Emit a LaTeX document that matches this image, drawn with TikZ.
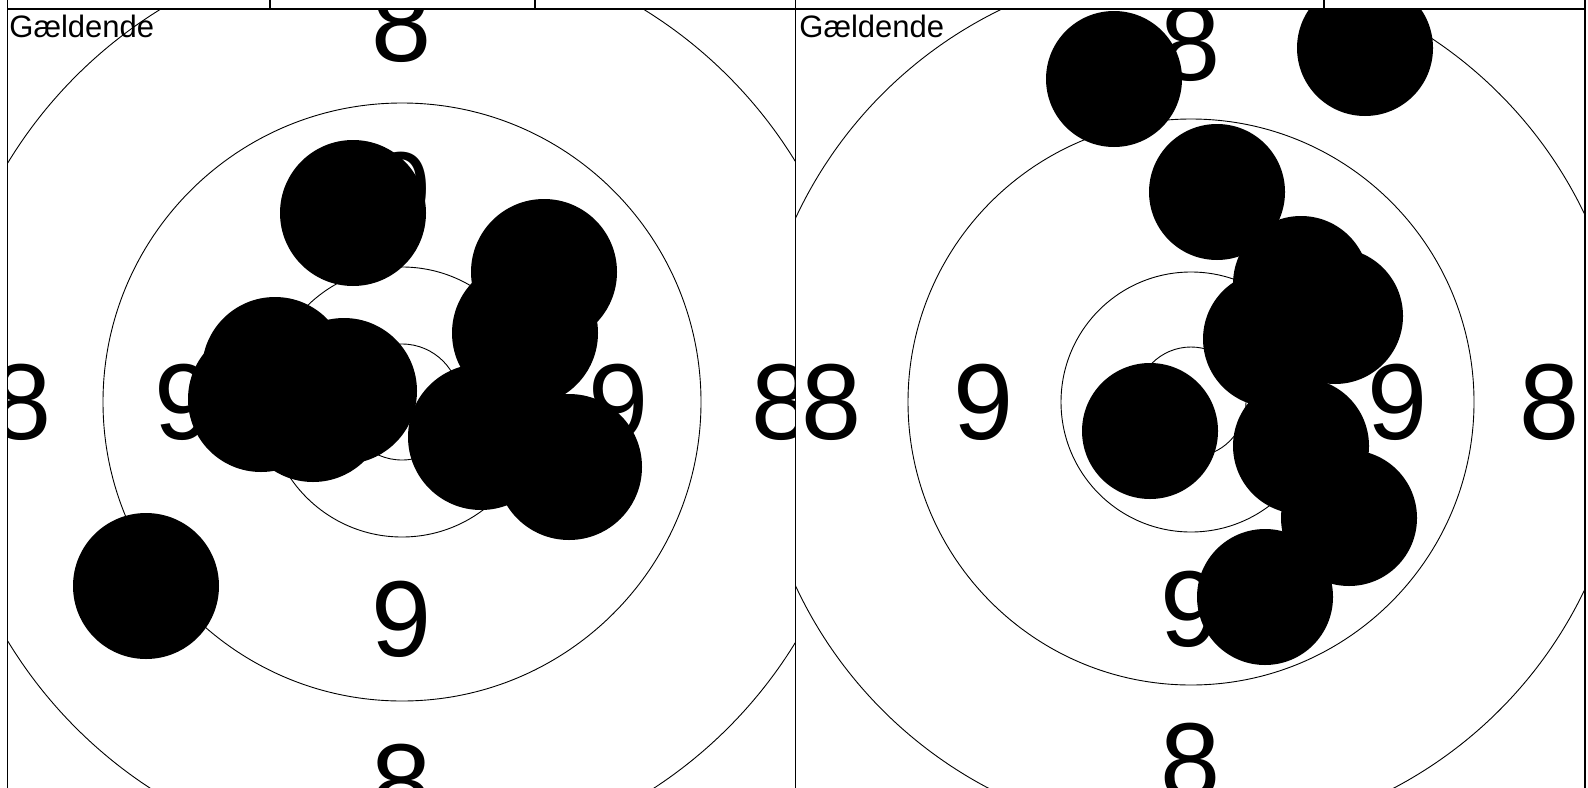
\documentclass[tikz,border=0pt]{standalone}
\usepackage{fontspec}
\setmainfont{Liberation Sans}
\begin{document}
\begin{tikzpicture}[
    x=0.5pt, y=-0.5pt,
    frame/.style={line width=0.7pt},
    ring/.style={line width=0.45pt},
    shot/.style={fill=black},
    num/.style={font=\fontsize{54}{54}\selectfont, inner sep=0pt, anchor=center},
    title/.style={font=\fontsize{15.5}{18}\selectfont, inner sep=0pt, anchor=base west}
]
\useasboundingbox (0,0) rectangle (1588,787);

% Left target
\begin{scope}
\clip (7.5,9) rectangle (795.7,800);
\draw[ring] (402,402) circle (58);
\draw[ring] (402,402) circle (135);
\draw[ring] (402,402) circle (299);
\draw[ring] (402,402) circle (461);
\node[num] (lnine n) at (402,190) {9};
\node[num] (lnine w) at (185,402) {9};
\node[num] (lnine e) at (619,402) {9};
\node[num] (lnine s) at (402,619) {9};
\node[num] (leight n) at (402,24) {8};
\node[num] (leight w) at (22,402) {8};
\node[num] (leight e) at (782,402) {8};
\node[num] (leight s) at (402,782) {8};
% shots
\fill[shot] (353,213) circle (73);
\fill[shot] (544,272) circle (73);
\fill[shot] (525,333) circle (73);
\fill[shot] (275,370) circle (73);
\fill[shot] (261,399) circle (73);
\fill[shot] (344,391) circle (73);
\fill[shot] (313,409) circle (73);
\fill[shot] (481,437) circle (73);
\fill[shot] (569,467) circle (73);
\fill[shot] (146,586) circle (73);
\node[title] (ltitle) at (9,37) {Gældende};
\end{scope}

% Right target
\begin{scope}
\clip (795.7,9) rectangle (1585,800);
\draw[ring] (1191,402) circle (55);
\draw[ring] (1191,402) circle (130);
\draw[ring] (1191,402) circle (283);
\draw[ring] (1191,402) circle (436);
\node[num] (rnine n) at (1191,195) {9};
\node[num] (rnine w) at (984,402) {9};
\node[num] (rnine e) at (1398,402) {9};
\node[num] (rnine s) at (1191,609) {9};
\node[num] (reight n) at (1191,43) {8};
\node[num] (reight w) at (832,402) {8};
\node[num] (reight e) at (1550,402) {8};
\node[num] (reight s) at (1191,761) {8};
% shots
\fill[shot] (1114,79) circle (68);
\fill[shot] (1365,48) circle (68);
\fill[shot] (1217,192) circle (68);
\fill[shot] (1301,284) circle (68);
\fill[shot] (1335,316) circle (68);
\fill[shot] (1271,339) circle (68);
\fill[shot] (1150,431) circle (68);
\fill[shot] (1301,446) circle (68);
\fill[shot] (1349,518) circle (68);
\fill[shot] (1265,597) circle (68);
\node[title] (rtitle) at (799,37) {Gældende};
\end{scope}

% Frames and header row
\draw[frame] (7.5,9) -- (1585,9);
\draw[frame] (7.5,-2) -- (7.5,790);
\draw[frame] (795.7,-2) -- (795.7,790);
\draw[frame] (1585,-2) -- (1585,790);
\draw[frame] (270,-2) -- (270,9);
\draw[frame] (535,-2) -- (535,9);
\draw[frame] (1324,-2) -- (1324,9);
\end{tikzpicture}
\end{document}
